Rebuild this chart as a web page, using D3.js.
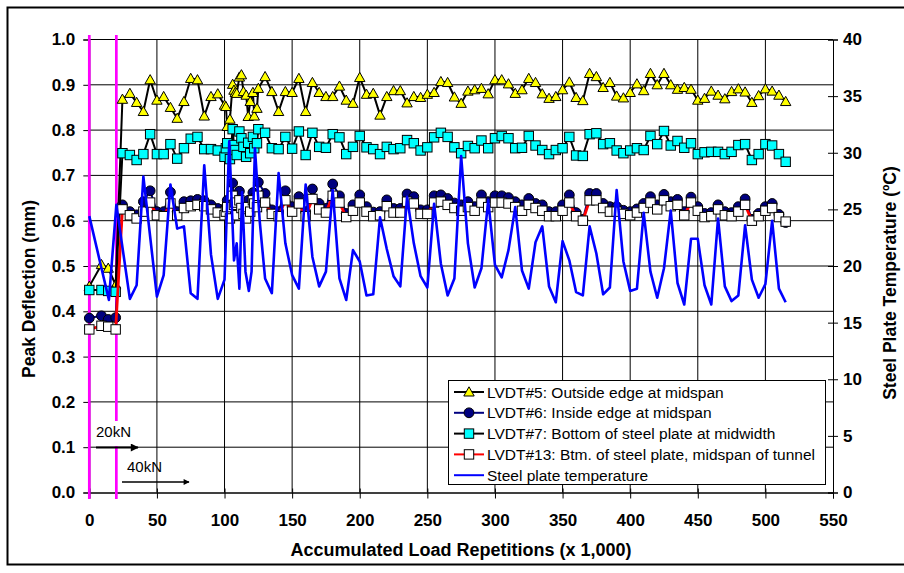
<!DOCTYPE html>
<html><head><meta charset="utf-8">
<script src="https://cdn.jsdelivr.net/npm/d3@7"></script>
<style>body{margin:0;background:#fff}svg{display:block}text{font-family:Arial,"Liberation Sans",sans-serif}</style>
</head><body><svg id="c" width="904" height="573"></svg>
<script>
// ---------- DATA ----------
const reps = [0,9,14,19.5,24.5,30,35,40,45,50,55,60,65,70,75,80,85,90,95,100,
 101,102,104,106,107,108,109,111,112.5,114,116,117.5,119,121,122,124,125,
 130,135,140,145,150,155,160,165,170,175,180,185,190,195,200,205,210,215,220,225,
 230,235,240,245,250,255,260,265,270,275,280,285,290,295,300,305,310,315,320,325,
 330,335,340,345,350,355,360,365,370,375,380,385,390,395,400,405,410,415,420,425,
 430,435,440,445,450,455,460,465,470,475,480,485,490,495,500,505,510,515];
const lvdt5 = [0.455,0.503,0.495,0.458,
 0.868,0.881,0.861,0.841,0.911,0.866,0.874,0.850,0.826,0.863,0.914,0.911,0.831,0.874,0.880,0.855,
 0.852,0.808,0.824,0.901,0.888,0.883,0.881,0.917,0.922,0.885,0.877,0.830,0.863,0.883,0.831,0.848,0.892,
 0.918,0.885,0.841,0.885,0.883,0.914,0.841,0.905,0.883,0.874,0.874,0.897,0.866,0.859,0.916,0.879,0.881,0.833,0.874,0.887,
 0.887,0.860,0.874,0.872,0.879,0.883,0.907,0.905,0.873,0.859,0.886,0.889,0.892,0.880,0.911,0.911,0.902,0.881,0.889,0.914,
 0.905,0.880,0.870,0.874,0.889,0.906,0.872,0.865,0.925,0.918,0.894,0.905,0.875,0.871,0.883,0.902,0.887,0.925,0.900,0.925,
 0.900,0.890,0.894,0.890,0.866,0.870,0.886,0.877,0.869,0.885,0.891,0.884,0.861,0.876,0.891,0.886,0.877,0.863];
const lvdt6 = [0.385,0.390,0.382,0.386,
 0.635,0.620,0.613,0.642,0.666,0.620,0.620,0.663,0.620,0.642,0.644,0.647,0.644,0.635,0.627,0.620,
 0.630,0.645,0.612,0.683,0.650,0.655,0.622,0.665,0.640,0.625,0.612,0.645,0.630,0.662,0.650,0.640,0.685,
 0.660,0.624,0.620,0.666,0.631,0.653,0.620,0.670,0.638,0.627,0.681,0.655,0.616,0.635,0.657,0.631,0.619,0.620,0.646,0.627,
 0.627,0.659,0.653,0.624,0.624,0.655,0.657,0.649,0.639,0.635,0.642,0.631,0.657,0.642,0.655,0.655,0.651,0.642,0.635,0.649,
 0.638,0.635,0.620,0.620,0.635,0.657,0.618,0.603,0.660,0.660,0.638,0.631,0.631,0.623,0.620,0.626,0.638,0.653,0.635,0.658,
 0.642,0.647,0.620,0.652,0.631,0.616,0.618,0.635,0.620,0.618,0.631,0.648,0.603,0.616,0.631,0.638,0.614,0.596];
const lvdt7 = [0.447,0.447,0.445,0.443,
 0.749,0.745,0.734,0.747,0.791,0.747,0.747,0.769,0.737,0.760,0.781,0.785,0.758,0.758,0.755,0.741,
 0.760,0.771,0.736,0.802,0.767,0.756,0.745,0.797,0.782,0.763,0.741,0.772,0.749,0.785,0.760,0.771,0.802,
 0.794,0.760,0.758,0.785,0.759,0.797,0.745,0.794,0.763,0.761,0.791,0.784,0.747,0.763,0.787,0.762,0.758,0.747,0.763,0.758,
 0.760,0.778,0.771,0.755,0.762,0.784,0.794,0.785,0.762,0.749,0.765,0.760,0.777,0.760,0.782,0.787,0.782,0.760,0.761,0.787,
 0.766,0.756,0.747,0.756,0.760,0.785,0.744,0.743,0.791,0.793,0.769,0.771,0.755,0.749,0.755,0.760,0.756,0.787,0.769,0.798,
 0.766,0.776,0.761,0.771,0.747,0.751,0.752,0.752,0.747,0.752,0.767,0.769,0.734,0.747,0.769,0.766,0.747,0.730];
const lvdt13 = [0.360,0.368,0.366,0.360,
 0.625,0.612,0.605,0.620,0.640,0.612,0.610,0.638,0.612,0.628,0.632,0.635,0.632,0.625,0.618,0.612,
 0.620,0.630,0.605,0.655,0.635,0.640,0.612,0.645,0.628,0.615,0.605,0.630,0.620,0.645,0.638,0.630,0.655,
 0.640,0.615,0.610,0.645,0.620,0.638,0.610,0.648,0.625,0.618,0.655,0.640,0.608,0.622,0.640,0.620,0.610,0.612,0.632,0.618,
 0.618,0.642,0.638,0.615,0.615,0.640,0.642,0.635,0.628,0.622,0.630,0.622,0.640,0.630,0.640,0.640,0.638,0.630,0.622,0.635,
 0.628,0.622,0.610,0.610,0.622,0.640,0.610,0.600,0.645,0.645,0.628,0.620,0.620,0.615,0.612,0.618,0.628,0.640,0.625,0.645,
 0.632,0.635,0.612,0.640,0.622,0.608,0.610,0.625,0.612,0.610,0.620,0.635,0.600,0.610,0.622,0.628,0.608,0.598];
const tempReps = [0,14.5,20,30,35,40,50,55,60,65,70,75,80,85,90,95,100,103.5,107,109,111,113,115.5,118,120,122.5,126,
 130,135,140,145,150,155,160,165,170,175,180,185,190,195,200,205,210,215,220,225,230,235,240,245,250,255,260,265,270,275,
 280,285,290,295,300,305,310,315,320,325,330,335,340,345,350,355,360,365,370,375,380,385,390,395,400,405,410,415,420,425,
 430,435,440,445,450,455,460,465,470,475,480,485,490,495,500,505,510,515];
const tempC = [24.4,17.0,25.4,17.1,18.3,27.9,17.3,19.2,27.2,23.3,23.5,17.6,17.1,28.9,21.0,17.1,18.8,31.0,20.5,22.0,18.0,26.5,19.5,17.8,19.5,30.4,24.0,
 18.9,17.6,28.2,22.0,19.2,18.0,27.2,20.8,18.2,19.5,26.7,18.9,17.0,21.4,20.4,17.4,17.5,24.3,21.5,19.1,18.2,26.1,22.0,19.1,18.1,25.5,20.2,17.4,18.9,29.7,
 22.0,18.1,19.8,25.8,20.1,19.0,21.4,25.2,19.6,18.0,22.1,23.5,18.2,16.8,22.2,20.5,17.7,17.4,23.5,21.1,17.5,18.1,26.7,20.4,17.8,18.0,24.7,19.5,17.2,19.8,
 24.9,18.5,16.6,22.4,22.4,18.3,16.6,24.2,18.2,16.9,17.4,23.6,18.8,17.2,18.4,24.0,18.0,16.8];
const xTicks = [0,50,100,150,200,250,300,350,400,450,500,550];
const yTicks = [0,0.1,0.2,0.3,0.4,0.5,0.6,0.7,0.8,0.9,1.0];
const y2Ticks = [0,5,10,15,20,25,30,35,40];
const loadSteps = [0,20];
const loadLabels = ["20kN","40kN"];
const legendNames = ["LVDT#5: Outside edge at midspan","LVDT#6: Inside edge at midspan",
 "LVDT#7: Bottom of steel plate at midwidth","LVDT#13: Btm. of steel plate, midspan of tunnel","Steel plate temperature"];

// ---------- CHART ----------
const svg = d3.select('#c');
const L=89.3,R=833,T=39.5,B=492.5;
const x = d3.scaleLinear().domain([0,550]).range([L,R]);
const y = d3.scaleLinear().domain([0,1]).range([B,T]);
const y2 = d3.scaleLinear().domain([0,40]).range([B,T]);

svg.append('rect').attr('width',904).attr('height',573).attr('fill','#fff');
svg.append('rect').attr('x',7.5).attr('y',7.5).attr('width',910).attr('height',557)
  .attr('fill','none').attr('stroke','#000').attr('stroke-width',2);

// gridlines
svg.append('g').selectAll('line').data(yTicks.slice(1)).join('line')
  .attr('x1',L).attr('x2',R).attr('y1',d=>y(d)).attr('y2',d=>y(d)).attr('stroke','#000').attr('stroke-width',1);
svg.append('g').selectAll('line').data(xTicks.slice(1,-1)).join('line')
  .attr('x1',d=>x(d)).attr('x2',d=>x(d)).attr('y1',T).attr('y2',B).attr('stroke','#000').attr('stroke-width',1);

// axes
const fmt1 = d3.format('.1f');
const gL = svg.append('g').attr('transform',`translate(${L},0)`)
  .call(d3.axisLeft(y).tickValues(yTicks).tickFormat(fmt1).tickSize(6).tickPadding(8));
const gB = svg.append('g').attr('transform',`translate(0,${B})`)
  .call(d3.axisBottom(x).tickValues(xTicks).tickSize(6).tickPadding(15));
const gR = svg.append('g').attr('transform',`translate(${R},0)`)
  .call(d3.axisRight(y2).tickValues(y2Ticks).tickSize(5).tickPadding(5));
svg.append('g').attr('transform',`translate(${R},0)`)
  .call(d3.axisRight(y2).tickValues(y2Ticks).tickSize(-5).tickFormat(''));
svg.append('g').attr('transform',`translate(0,${B})`)
  .call(d3.axisBottom(x).tickValues(xTicks).tickSize(-4).tickFormat(''));
[gL,gB,gR].forEach(g=>{
  g.selectAll('text').attr('font-size',17).attr('font-weight','bold').attr('fill','#000')
   .attr('font-family','Arial,"Liberation Sans",sans-serif');
});
svg.selectAll('.domain').attr('stroke','#000');
svg.selectAll('.tick line').attr('stroke','#000');

// load-step markers (magenta)
svg.append('g').selectAll('line').data(loadSteps).join('line')
  .attr('x1',d=>x(d)).attr('x2',d=>x(d)).attr('y1',35).attr('y2',499)
  .attr('stroke','#ff00ff').attr('stroke-width',2.7);
svg.append('rect').attr('x',x(20)-8).attr('y',421).attr('width',16).attr('height',25).attr('fill','#fff');

// series
const line = (xs,ys,sc)=>d3.line().x((d,i)=>x(xs[i])).y(d=>sc(d))(ys);
const tri = 'M0,-5.2L5.2,4L-5.2,4Z';
function series(vals, lineColor, lw, marker){
  svg.append('path').attr('d',line(reps,vals,y)).attr('fill','none').attr('stroke',lineColor).attr('stroke-width',lw).attr('stroke-linejoin','round');
  const g = svg.append('g');
  vals.forEach((v,i)=>drawMarker(g, x(reps[i]), y(v), marker));
}
function drawMarker(g,cx,cy,m){
  if(m==='tri') g.append('path').attr('d',tri).attr('transform',`translate(${cx},${cy})`).attr('fill','#ffff00').attr('stroke','#000').attr('stroke-width',1);
  else if(m==='circ') g.append('circle').attr('cx',cx).attr('cy',cy).attr('r',4.9).attr('fill','#000080').attr('stroke','#000').attr('stroke-width',1);
  else if(m==='sq') g.append('rect').attr('x',cx-4.7).attr('y',cy-4.7).attr('width',9.4).attr('height',9.4).attr('fill','#00ffff').attr('stroke','#000').attr('stroke-width',1);
  else if(m==='osq') g.append('rect').attr('x',cx-4.7).attr('y',cy-4.7).attr('width',9.4).attr('height',9.4).attr('fill','#fff').attr('stroke','#000').attr('stroke-width',1);
}
series(lvdt5,'#000',2,'tri');
series(lvdt6,'#000080',2,'circ');
series(lvdt7,'#000',2,'sq');
series(lvdt13,'#ff0000',2.8,'osq');
svg.append('path').attr('d',line(tempReps,tempC,y2)).attr('fill','none').attr('stroke','#0000ff').attr('stroke-width',2.6).attr('stroke-linejoin','round');

// legend
const lg = svg.append('g');
lg.append('rect').attr('x',448.5).attr('y',380.5).attr('width',377).attr('height',104).attr('fill','#fff').attr('stroke','#000').attr('stroke-width',1);
const lcol = ['#000','#000080','#000','#ff0000','#0000ff'];
const lmk = ['tri','circ','sq','osq',null];
legendNames.forEach((n,i)=>{
  const yy = 392 + i*20.8;
  lg.append('line').attr('x1',454).attr('x2',484).attr('y1',yy).attr('y2',yy).attr('stroke',lcol[i]).attr('stroke-width',2);
  if(lmk[i]) drawMarker(lg,469,yy,lmk[i]);
  lg.append('text').attr('x',487).attr('y',yy+5.5).attr('font-size',15.5).text(n);
});

// annotations
svg.append('text').attr('x',96).attr('y',437).attr('font-size',15).text(loadLabels[0]);
svg.append('text').attr('x',127).attr('y',471.5).attr('font-size',15).text(loadLabels[1]);
svg.append('defs').append('marker').attr('id','ah').attr('viewBox','0 0 10 10').attr('refX',9).attr('refY',5)
  .attr('markerWidth',5).attr('markerHeight',4).attr('orient','auto').attr('markerUnits','strokeWidth')
  .append('path').attr('d','M0,0L10,5L0,10Z').attr('fill','#000');
svg.append('line').attr('x1',96).attr('x2',138).attr('y1',447.5).attr('y2',447.5).attr('stroke','#000').attr('stroke-width',2).attr('marker-end','url(#ah)');
svg.append('line').attr('x1',122).attr('x2',189).attr('y1',482).attr('y2',482).attr('stroke','#000').attr('stroke-width',1.5).attr('marker-end','url(#ah)');

// titles
svg.append('text').attr('transform','translate(35,289) rotate(-90)').attr('text-anchor','middle')
  .attr('font-size',17.5).attr('font-weight','bold').text('Peak Deflection (mm)');
svg.append('text').attr('transform','translate(896,283) rotate(-90)').attr('text-anchor','middle')
  .attr('font-size',17.5).attr('font-weight','bold').text('Steel Plate Temperature (ºC)');
svg.append('text').attr('x',461).attr('y',556).attr('text-anchor','middle')
  .attr('font-size',18).attr('font-weight','bold').text('Accumulated Load Repetitions (x 1,000)');
</script></body></html>
